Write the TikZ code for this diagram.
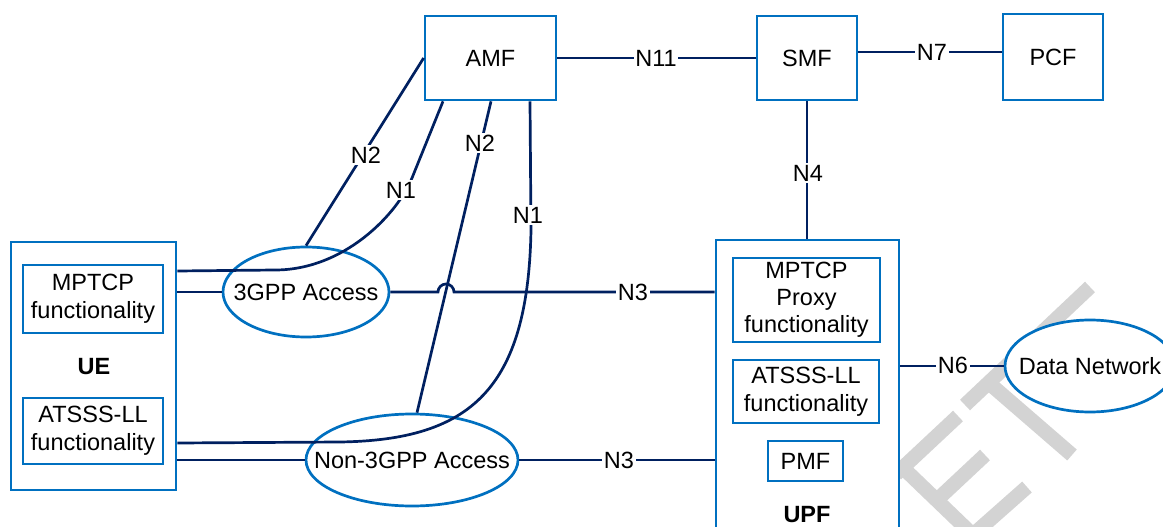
\documentclass[tikz,border=0pt]{standalone}
\usepackage{fontspec}
\setmainfont{Liberation Sans}
\usetikzlibrary{shapes.geometric}
\definecolor{boxblue}{RGB}{0,112,192}
\definecolor{linenavy}{RGB}{0,32,96}
\definecolor{wmgray}{RGB}{211,211,211}
\begin{document}
\begin{tikzpicture}[x=1pt,y=-1pt,
  font=\fontsize{23.5}{28}\selectfont,
  fbox/.style={draw=boxblue, line width=2.7pt, fill=white, rectangle, inner sep=0pt, align=center},
  acc/.style={draw=boxblue, line width=2.7pt, fill=white, ellipse, inner sep=0pt},
  link/.style={draw=linenavy, line width=2.7pt},
  lbl/.style={fill=white, inner sep=1.5pt},
  boldlbl/.style={font=\fontsize{23.5}{28}\selectfont\bfseries},
  wm/.style={draw=wmgray, line width=14.5pt}]
\useasboundingbox (0,0) rectangle (1163,527);
\clip (0,0) rectangle (1163,527);
% watermark
\draw[wm] (1090,287) -- (965,405);
\draw[wm] (990,384) -- (1072,455);
\draw[wm] (958,416) -- (896,474);
\draw[wm] (985,455) -- (938,499);
\draw[wm] (1027,487) -- (975,533);
\draw[wm] (898,463) -- (975,537);
% helper coordinates
\coordinate (y271) at (0,271);
\coordinate (y443) at (0,443);
\coordinate (y52) at (0,52);
\coordinate (x443) at (443,0);
\coordinate (x491) at (491,0);
\coordinate (x530) at (530,0);
% boxes
\node[fbox, minimum width=131pt, minimum height=84pt] (amf) at (490.5,58) {AMF};
\node[fbox, minimum width=100pt, minimum height=84pt] (smf) at (807,58) {SMF};
\node[fbox, minimum width=100pt, minimum height=86pt] (pcf) at (1053,57) {PCF};
\node[fbox, minimum width=165pt, minimum height=248pt] (ue) at (93.5,366) {};
\node[fbox, minimum width=140pt, minimum height=68pt] (uemp) at (93,299) {MPTCP\\functionality};
\node[fbox, minimum width=140pt, minimum height=66pt] (ueat) at (93,431) {ATSSS-LL\\functionality};
\node[boldlbl] (uelbl) at (94,367) {UE};
\node[fbox, minimum width=183pt, minimum height=320pt] (upf) at (807.5,400) {};
\node[fbox, minimum width=147pt, minimum height=84pt, font=\fontsize{23.5}{27}\selectfont] (upmp) at (806.5,300) {MPTCP\\Proxy\\functionality};
\node[fbox, minimum width=146pt, minimum height=63pt] (upat) at (806,391.5) {ATSSS-LL\\functionality};
\node[fbox, minimum width=75pt, minimum height=40pt] (pmf) at (805.5,461) {PMF};
\node[boldlbl] (upflbl) at (807,515) {UPF};
% ellipses
\node[acc, minimum width=166pt, minimum height=90pt] (a3) at (306,292) {};
\node (a3t) at (a3) {3GPP Access};
\node[acc, minimum width=212pt, minimum height=92pt] (an3) at (412,460) {};
\node (an3t) at (an3) {Non-3GPP Access};
\node[acc, minimum width=170pt, minimum height=92pt] (dn) at (1090,366) {};
\node (dnt) at (dn) {Data Network};
% connectors
\draw[link] (ue.east |- y271) -- (275,270) .. controls (345,270) and (398,213) .. (412,178) -- (amf.south -| x443);
\draw[link] (a3.north) -- (amf.west);
\draw[link] ([xshift=5pt]an3.north) -- (amf.south -| x491);
\draw[link] (ue.east |- y443) -- (340,442) .. controls (470,440) and (528,390) .. (531,230) -- (amf.south -| x530);
\draw[link] (ue.east |- a3.west) -- (a3.west);
\draw[link] (a3.east) -- (438,292) arc[start angle=180, end angle=0, radius=8pt] -- (upf.west |- a3.east);
\draw[link] (ue.east |- an3.west) -- (an3.west);
\draw[link] (an3.east) -- (upf.west |- an3.east);
\draw[link] (amf.east) -- (smf.west);
\draw[link] (smf.east |- y52) -- (pcf.west |- y52);
\draw[link] (smf.south) -- (smf.south |- upf.north);
\draw[link] (upf.east |- dn.west) -- (dn.west);
% labels
\node[lbl] (ln2a) at (366,155) {N2};
\node[lbl] (ln1a) at (401,190) {N1};
\node[lbl] (ln2b) at (480,143) {N2};
\node[lbl] (ln1b) at (528,215) {N1};
\node[lbl] (ln11) at (656,58) {N11};
\node[lbl] (ln7) at (932,52) {N7};
\node[lbl] (ln4) at (808,173) {N4};
\node[lbl] (ln3a) at (633,292) {N3};
\node[lbl] (ln3b) at (619,460) {N3};
\node[lbl] (ln6) at (953,365) {N6};
\end{tikzpicture}
\end{document}
